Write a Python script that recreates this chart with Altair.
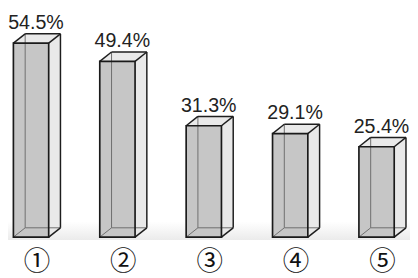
import altair as alt
import pandas as pd

# ---- data ----
categories = ["①", "②", "③", "④", "⑤"]
values = [54.5, 49.4, 31.3, 29.1, 25.4]
value_labels = ["54.5%", "49.4%", "31.3%", "29.1%", "25.4%"]
floor_band = [-0.8, 4.4]          # faint floor shadow, in value units

# ---- layout constants ----
W, H = 410, 270
PX_X = 88.1                       # pixels per category step
FIRST_CENTER = 23.5               # pixel of first bar centre
PX_Y = 3.63                       # pixels per percent
ZERO_PX = 231                     # pixel row of value 0
x_dom = [1 - FIRST_CENTER / PX_X, 1 + (W - FIRST_CENTER) / PX_X]
y_dom = [-(H - ZERO_PX) / PX_Y, ZERO_PX / PX_Y]
HW = 18 / PX_X                    # half front width
DX = 12 / PX_X                    # depth offset x
DY = 9.5 / PX_Y                   # depth offset y

xs = alt.Scale(domain=x_dom, nice=False, zero=False)
ys = alt.Scale(domain=y_dom, nice=False, zero=False)

front_rows, area_rows, seg_rows = [], [], []
for i, (c, v, lab) in enumerate(zip(categories, values, value_labels), start=1):
    xl, xr = i - HW, i + HW
    front_rows.append(dict(cat=c, xl=xl, xr=xr, y0=0.0, v=v, lab=lab,
                           tx=i + 5 / PX_X, ty=v + DY, cx=i + 6 / PX_X))
    # side face
    area_rows += [dict(g=f"s{i}", x=xr, y=v, y2=0.0),
                  dict(g=f"s{i}", x=xr + DX, y=v + DY, y2=DY)]
    # top face
    area_rows += [dict(g=f"t{i}", x=xl, y=v, y2=v),
                  dict(g=f"t{i}", x=xl + DX, y=v + DY, y2=v),
                  dict(g=f"t{i}", x=xr, y=v + DY, y2=v),
                  dict(g=f"t{i}", x=xr + DX, y=v + DY, y2=v + DY)]
    # visible edges
    for a, b in [((xl, v), (xl + DX, v + DY)),
                 ((xl + DX, v + DY), (xr + DX, v + DY)),
                 ((xr, v), (xr + DX, v + DY)),
                 ((xr + DX, v + DY), (xr + DX, DY)),
                 ((xr, 0.0), (xr + DX, DY))]:
        seg_rows.append(dict(k="vis", x=a[0], y=a[1], x2=b[0], y2=b[1]))
    # hidden edges
    for a, b in [((xl + DX, DY), (xl + DX, v + DY)),
                 ((xl + DX, DY), (xr + DX, DY)),
                 ((xl, 0.0), (xl + DX, DY))]:
        seg_rows.append(dict(k="hid", x=a[0], y=a[1], x2=b[0], y2=b[1]))

front = pd.DataFrame(front_rows)
areas = pd.DataFrame(area_rows)
segs = pd.DataFrame(seg_rows)
floor = pd.DataFrame([dict(y=floor_band[0], y2=floor_band[1])])

floor_layer = alt.Chart(floor).mark_rect(
    color=alt.Gradient(gradient="linear", x1=0, x2=0, y1=0, y2=1,
                       stops=[alt.GradientStop(color="#ffffff", offset=0),
                              alt.GradientStop(color="#ebebeb", offset=1)])
).encode(x=alt.value(0), x2=alt.value(W),
         y=alt.Y("y:Q", scale=ys, axis=None), y2="y2:Q")

area_layer = alt.Chart(areas).mark_area(color="#e9e9e9", opacity=1).encode(
    x=alt.X("x:Q", scale=xs, axis=None),
    y=alt.Y("y:Q", scale=ys, axis=None), y2="y2:Q",
    detail="g:N")

front_fill = alt.Chart(front).mark_rect(color="#c6c6c6").encode(
    x=alt.X("xl:Q", scale=xs, axis=None), x2="xr:Q",
    y=alt.Y("y0:Q", scale=ys, axis=None), y2="v:Q")

hid = alt.Chart(segs).transform_filter("datum.k == 'hid'").mark_rule(
    color="#6e6e6e", strokeWidth=1).encode(
    x=alt.X("x:Q", scale=xs, axis=None), x2="x2:Q",
    y=alt.Y("y:Q", scale=ys, axis=None), y2="y2:Q")

vis = alt.Chart(segs).transform_filter("datum.k == 'vis'").mark_rule(
    color="#1e1e1e", strokeWidth=1.5).encode(
    x=alt.X("x:Q", scale=xs, axis=None), x2="x2:Q",
    y=alt.Y("y:Q", scale=ys, axis=None), y2="y2:Q")

front_outline = alt.Chart(front).mark_rect(
    fillOpacity=0, stroke="#1a1a1a", strokeWidth=1.7).encode(
    x=alt.X("xl:Q", scale=xs, axis=None), x2="xr:Q",
    y=alt.Y("y0:Q", scale=ys, axis=None), y2="v:Q")

val_text = alt.Chart(front).mark_text(
    font="Liberation Sans", fontSize=20, color="#222222",
    baseline="alphabetic", align="center", dy=-5).encode(
    x=alt.X("tx:Q", scale=xs, axis=None),
    y=alt.Y("ty:Q", scale=ys, axis=None), text="lab:N")

cat_text = alt.Chart(front).mark_text(
    font="Noto Sans CJK SC", fontSize=27, color="#111111",
    baseline="middle", align="center").encode(
    x=alt.X("cx:Q", scale=xs, axis=None),
    y=alt.value(257), text="cat:N")

chart = alt.layer(floor_layer, area_layer, front_fill, hid, vis,
                  front_outline, val_text, cat_text).properties(
    width=W, height=H, padding=0,
    autosize=alt.AutoSizeParams(type="none"),
    background="white"
).configure_view(stroke=None)

chart.save("out.html", embed_options={"renderer": "svg", "actions": False})
